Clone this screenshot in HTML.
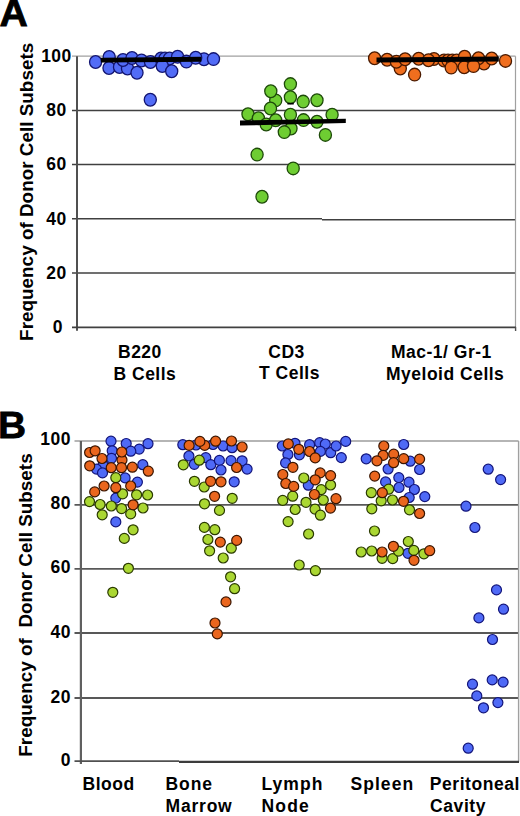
<!DOCTYPE html><html><head><meta charset="utf-8"><style>html,body{margin:0;padding:0;background:#fff;}svg{display:block}text{font-family:"Liberation Sans",sans-serif;font-weight:bold;fill:#000}</style></head><body><svg width="520" height="816" viewBox="0 0 520 816"><g stroke="#404040" stroke-width="1.5"><line x1="72" y1="110.4" x2="515.5" y2="110.4"/><line x1="72" y1="164.6" x2="515.5" y2="164.6"/><line x1="72" y1="273.0" x2="515.5" y2="273.0"/><line x1="72" y1="218.7" x2="322" y2="218.7"/><line x1="322" y1="219.8" x2="515.5" y2="219.8"/></g><line x1="72" y1="56.2" x2="515.5" y2="56.2" stroke="#a0a0a0" stroke-width="1.2"/><line x1="515.5" y1="56.2" x2="515.5" y2="331" stroke="#a0a0a0" stroke-width="1.2"/><line x1="77" y1="56.2" x2="77" y2="330.8" stroke="#505050" stroke-width="2"/><line x1="72" y1="327.4" x2="516" y2="327.4" stroke="#404040" stroke-width="1.7"/><line x1="515.6" y1="327" x2="515.6" y2="331" stroke="#505050" stroke-width="1.3"/><text x="56.5" y="61.9" font-size="17.5" letter-spacing="0.5" text-anchor="middle">100</text><text x="56.5" y="116.1" font-size="17.5" letter-spacing="0.5" text-anchor="middle">80</text><text x="56.5" y="170.3" font-size="17.5" letter-spacing="0.5" text-anchor="middle">60</text><text x="56.5" y="224.5" font-size="17.5" letter-spacing="0.5" text-anchor="middle">40</text><text x="56.5" y="278.7" font-size="17.5" letter-spacing="0.5" text-anchor="middle">20</text><text x="57.8" y="333.1" font-size="17.5" letter-spacing="0.5" text-anchor="middle">0</text><g fill="#526cf6" stroke="#121470" stroke-width="1.3"><ellipse cx="95.6" cy="62" rx="6.05" ry="6.35"/><ellipse cx="109.2" cy="57" rx="6.05" ry="6.35"/><ellipse cx="109" cy="68" rx="6.05" ry="6.35"/><ellipse cx="119.5" cy="67" rx="6.05" ry="6.35"/><ellipse cx="127.5" cy="68.5" rx="6.05" ry="6.35"/><ellipse cx="123" cy="60" rx="6.05" ry="6.35"/><ellipse cx="132" cy="58" rx="6.05" ry="6.35"/><ellipse cx="137" cy="72.7" rx="6.05" ry="6.35"/><ellipse cx="141.5" cy="60.5" rx="6.05" ry="6.35"/><ellipse cx="150.5" cy="62" rx="6.05" ry="6.35"/><ellipse cx="161" cy="58.5" rx="6.05" ry="6.35"/><ellipse cx="165" cy="58.5" rx="6.05" ry="6.35"/><ellipse cx="169.5" cy="58.5" rx="6.05" ry="6.35"/><ellipse cx="162.3" cy="66" rx="6.05" ry="6.35"/><ellipse cx="171.7" cy="71.3" rx="6.05" ry="6.35"/><ellipse cx="177.6" cy="56.8" rx="6.05" ry="6.35"/><ellipse cx="186.4" cy="61.6" rx="6.05" ry="6.35"/><ellipse cx="204" cy="59.2" rx="6.05" ry="6.35"/><ellipse cx="195.7" cy="57.8" rx="6.05" ry="6.35"/><ellipse cx="213.5" cy="59.1" rx="6.05" ry="6.35"/><ellipse cx="150.3" cy="99.7" rx="6.05" ry="6.35"/></g><g fill="#6ecd32" stroke="#1e4a0a" stroke-width="1.3"><ellipse cx="275.7" cy="100.4" rx="6.05" ry="6.35"/><ellipse cx="270.8" cy="91.2" rx="6.05" ry="6.35"/><ellipse cx="270.5" cy="108.5" rx="6.05" ry="6.35"/><ellipse cx="248" cy="114.2" rx="6.05" ry="6.35"/><ellipse cx="258.4" cy="118.3" rx="6.05" ry="6.35"/><ellipse cx="266.2" cy="124.5" rx="6.05" ry="6.35"/><ellipse cx="275.7" cy="120.2" rx="6.05" ry="6.35"/><ellipse cx="290.4" cy="84.1" rx="6.05" ry="6.35"/><ellipse cx="290.4" cy="97.2" rx="6.05" ry="6.35"/><ellipse cx="303.2" cy="101.6" rx="6.05" ry="6.35"/><ellipse cx="317" cy="100.2" rx="6.05" ry="6.35"/><ellipse cx="290.4" cy="114.7" rx="6.05" ry="6.35"/><ellipse cx="303.5" cy="120.1" rx="6.05" ry="6.35"/><ellipse cx="317" cy="121.8" rx="6.05" ry="6.35"/><ellipse cx="332.1" cy="114.7" rx="6.05" ry="6.35"/><ellipse cx="325.4" cy="134.9" rx="6.05" ry="6.35"/><ellipse cx="291" cy="128.5" rx="6.05" ry="6.35"/><ellipse cx="284.3" cy="132.1" rx="6.05" ry="6.35"/><ellipse cx="257.1" cy="154.6" rx="6.05" ry="6.35"/><ellipse cx="293.2" cy="168.4" rx="6.05" ry="6.35"/><ellipse cx="262" cy="196.7" rx="6.05" ry="6.35"/></g><g fill="#f06e1e" stroke="#4a1a00" stroke-width="1.3"><ellipse cx="374.6" cy="58.2" rx="6.05" ry="6.35"/><ellipse cx="387.1" cy="59.7" rx="6.05" ry="6.35"/><ellipse cx="400.3" cy="68.5" rx="6.05" ry="6.35"/><ellipse cx="396.4" cy="61.8" rx="6.05" ry="6.35"/><ellipse cx="405.1" cy="59.2" rx="6.05" ry="6.35"/><ellipse cx="414.6" cy="74.6" rx="6.05" ry="6.35"/><ellipse cx="418.7" cy="58.7" rx="6.05" ry="6.35"/><ellipse cx="434" cy="59" rx="6.05" ry="6.35"/><ellipse cx="428.5" cy="60.2" rx="6.05" ry="6.35"/><ellipse cx="444" cy="60.5" rx="6.05" ry="6.35"/><ellipse cx="448" cy="60.5" rx="6.05" ry="6.35"/><ellipse cx="452.3" cy="60.5" rx="6.05" ry="6.35"/><ellipse cx="456.6" cy="60.5" rx="6.05" ry="6.35"/><ellipse cx="451.2" cy="67.6" rx="6.05" ry="6.35"/><ellipse cx="464.6" cy="56.8" rx="6.05" ry="6.35"/><ellipse cx="464.2" cy="67.3" rx="6.05" ry="6.35"/><ellipse cx="484" cy="63.5" rx="6.05" ry="6.35"/><ellipse cx="478.5" cy="58.2" rx="6.05" ry="6.35"/><ellipse cx="491.7" cy="58.5" rx="6.05" ry="6.35"/><ellipse cx="505.5" cy="60.9" rx="6.05" ry="6.35"/><ellipse cx="473.5" cy="66.1" rx="6.05" ry="6.35"/></g><g fill="#000"><rect x="287.4" y="102.7" width="6.4" height="1.9" rx="0.6"/><polygon points="100.8,57.7 201.3,56.8 201.3,61.7 100.8,62.4"/><polygon points="240,120.6 345.8,118.7 345.8,123.1 240,125.5"/><polygon points="376.5,57.6 498.8,56.6 498.8,61.6 376.5,62.5"/></g><text transform="translate(-0.6,26.2) scale(1.06,1)" font-size="37" stroke="#000" stroke-width="0.8">A</text><text transform="translate(32.8,340.9) rotate(-90)" font-size="18.9">Frequency of Donor Cell Subsets</text><text x="118" y="357.5" font-size="17.5" letter-spacing="0.5">B220</text><text x="113.5" y="379.8" font-size="17.5" letter-spacing="0.5">B Cells</text><text x="268.3" y="357.5" font-size="17.5" letter-spacing="0.5">CD3</text><text x="259" y="379" font-size="17.5" letter-spacing="0.5">T Cells</text><text x="391" y="357.7" font-size="17.5" letter-spacing="0.5">Mac-1/ Gr-1</text><text x="386" y="379.6" font-size="17.5" letter-spacing="0.5">Myeloid Cells</text><g stroke="#585858" stroke-width="1.9"><line x1="74.5" y1="504.9" x2="518.6" y2="504.9"/><line x1="74.5" y1="568.9" x2="518.6" y2="568.9"/><line x1="74.5" y1="633.0" x2="518.6" y2="633.0"/><line x1="74.5" y1="698.0" x2="518.6" y2="698.0"/></g><line x1="74.5" y1="440.9" x2="518.6" y2="440.9" stroke="#9c9c9c" stroke-width="1.5"/><line x1="518.6" y1="440.9" x2="518.6" y2="761.7" stroke="#a0a0a0" stroke-width="1.4"/><line x1="80.9" y1="440.9" x2="80.9" y2="764" stroke="#606060" stroke-width="2.2"/><line x1="74.5" y1="761.1" x2="179" y2="761.1" stroke="#505050" stroke-width="1.6"/><line x1="179" y1="761.9" x2="519" y2="761.9" stroke="#3c3c3c" stroke-width="2.1"/><text x="70.9" y="445.4" font-size="17.5" letter-spacing="0.5" text-anchor="end">100</text><text x="70.9" y="509.4" font-size="17.5" letter-spacing="0.5" text-anchor="end">80</text><text x="70.9" y="573.4" font-size="17.5" letter-spacing="0.5" text-anchor="end">60</text><text x="70.9" y="637.5" font-size="17.5" letter-spacing="0.5" text-anchor="end">40</text><text x="70.9" y="702.5" font-size="17.5" letter-spacing="0.5" text-anchor="end">20</text><text x="70.9" y="766.2" font-size="17.5" letter-spacing="0.5" text-anchor="end">0</text><g fill="#4f6af6" stroke="#12147a" stroke-width="1.2"><circle cx="111" cy="441.2" r="5.0"/><circle cx="126.2" cy="443.5" r="5.0"/><circle cx="148" cy="443.7" r="5.0"/><circle cx="139.2" cy="449.1" r="5.0"/><circle cx="130.8" cy="451.2" r="5.0"/><circle cx="112.2" cy="450.8" r="5.0"/><circle cx="111.5" cy="458.3" r="5.0"/><circle cx="142.8" cy="464.7" r="5.0"/><circle cx="103" cy="465" r="5.0"/><circle cx="96.5" cy="469.1" r="5.0"/><circle cx="102.5" cy="472.9" r="5.0"/><circle cx="125.1" cy="477.9" r="5.0"/><circle cx="137.4" cy="482.1" r="5.0"/><circle cx="115.8" cy="498.1" r="5.0"/><circle cx="115.8" cy="521.9" r="5.0"/><circle cx="182.8" cy="444.7" r="5.0"/><circle cx="196" cy="445" r="5.0"/><circle cx="213" cy="444.5" r="5.0"/><circle cx="223.1" cy="446" r="5.0"/><circle cx="232.1" cy="447.7" r="5.0"/><circle cx="188.9" cy="456" r="5.0"/><circle cx="194.3" cy="464.3" r="5.0"/><circle cx="205.8" cy="457.7" r="5.0"/><circle cx="210.8" cy="464.7" r="5.0"/><circle cx="219.4" cy="460.4" r="5.0"/><circle cx="221" cy="470" r="5.0"/><circle cx="231" cy="460.6" r="5.0"/><circle cx="242.1" cy="460.8" r="5.0"/><circle cx="247.1" cy="469.1" r="5.0"/><circle cx="234.2" cy="481.8" r="5.0"/><circle cx="282.3" cy="446" r="5.0"/><circle cx="295" cy="443.3" r="5.0"/><circle cx="287.9" cy="454.5" r="5.0"/><circle cx="299.4" cy="454.8" r="5.0"/><circle cx="285.6" cy="462.9" r="5.0"/><circle cx="309.6" cy="444.7" r="5.0"/><circle cx="319.7" cy="442.7" r="5.0"/><circle cx="325.3" cy="444" r="5.0"/><circle cx="320.4" cy="451.4" r="5.0"/><circle cx="330.7" cy="452.7" r="5.0"/><circle cx="336.1" cy="446" r="5.0"/><circle cx="341.3" cy="457.6" r="5.0"/><circle cx="345.7" cy="441.4" r="5.0"/><circle cx="308.3" cy="485.2" r="5.0"/><circle cx="403.7" cy="444.5" r="5.0"/><circle cx="366.2" cy="458.8" r="5.0"/><circle cx="388.1" cy="469" r="5.0"/><circle cx="410.2" cy="461.2" r="5.0"/><circle cx="419.6" cy="469.5" r="5.0"/><circle cx="398.8" cy="477.6" r="5.0"/><circle cx="385.6" cy="481.9" r="5.0"/><circle cx="409" cy="482.2" r="5.0"/><circle cx="399" cy="487.5" r="5.0"/><circle cx="414.4" cy="489.5" r="5.0"/><circle cx="409.2" cy="497.5" r="5.0"/><circle cx="424.8" cy="496.6" r="5.0"/><circle cx="408" cy="553.3" r="5.0"/><circle cx="488.2" cy="469.2" r="5.0"/><circle cx="500.6" cy="479.6" r="5.0"/><circle cx="466" cy="506.2" r="5.0"/><circle cx="474.9" cy="527.5" r="5.0"/><circle cx="496.5" cy="589.9" r="5.0"/><circle cx="503.5" cy="609.2" r="5.0"/><circle cx="478.9" cy="617.9" r="5.0"/><circle cx="492.5" cy="639.5" r="5.0"/><circle cx="472.5" cy="684.2" r="5.0"/><circle cx="492.2" cy="679.9" r="5.0"/><circle cx="503.1" cy="682.1" r="5.0"/><circle cx="476.8" cy="695.9" r="5.0"/><circle cx="497.9" cy="702.6" r="5.0"/><circle cx="483.5" cy="707.8" r="5.0"/><circle cx="468.2" cy="748.2" r="5.0"/></g><g fill="#aad732" stroke="#2a3a00" stroke-width="1.2"><circle cx="115.8" cy="477.7" r="5.0"/><circle cx="122.6" cy="493.8" r="5.0"/><circle cx="136.6" cy="494.8" r="5.0"/><circle cx="147.6" cy="495" r="5.0"/><circle cx="89.5" cy="501.6" r="5.0"/><circle cx="100.1" cy="504.5" r="5.0"/><circle cx="111.3" cy="506" r="5.0"/><circle cx="121.6" cy="508.6" r="5.0"/><circle cx="143" cy="508" r="5.0"/><circle cx="130.7" cy="513.9" r="5.0"/><circle cx="102.2" cy="514.8" r="5.0"/><circle cx="133.1" cy="529.8" r="5.0"/><circle cx="124.3" cy="538.4" r="5.0"/><circle cx="128.4" cy="568.3" r="5.0"/><circle cx="112.8" cy="592.3" r="5.0"/><circle cx="183.3" cy="464.8" r="5.0"/><circle cx="199.3" cy="460.2" r="5.0"/><circle cx="194.4" cy="481.3" r="5.0"/><circle cx="204.2" cy="487" r="5.0"/><circle cx="232.2" cy="498.3" r="5.0"/><circle cx="204.5" cy="503.8" r="5.0"/><circle cx="219.5" cy="510.4" r="5.0"/><circle cx="204.4" cy="527.4" r="5.0"/><circle cx="214.8" cy="529.7" r="5.0"/><circle cx="207.9" cy="539.5" r="5.0"/><circle cx="231.3" cy="548.2" r="5.0"/><circle cx="209.6" cy="550.8" r="5.0"/><circle cx="223.2" cy="558" r="5.0"/><circle cx="230.6" cy="576.8" r="5.0"/><circle cx="234.6" cy="588.7" r="5.0"/><circle cx="303.8" cy="478" r="5.0"/><circle cx="330.6" cy="485" r="5.0"/><circle cx="321.2" cy="489.6" r="5.0"/><circle cx="292.7" cy="496.2" r="5.0"/><circle cx="282.7" cy="500.4" r="5.0"/><circle cx="306" cy="502.3" r="5.0"/><circle cx="323.3" cy="500" r="5.0"/><circle cx="295.2" cy="509.5" r="5.0"/><circle cx="315" cy="509.1" r="5.0"/><circle cx="320.4" cy="515.2" r="5.0"/><circle cx="288.1" cy="521.6" r="5.0"/><circle cx="308.6" cy="534" r="5.0"/><circle cx="299.2" cy="565" r="5.0"/><circle cx="315.4" cy="570.7" r="5.0"/><circle cx="388.7" cy="489.2" r="5.0"/><circle cx="371.3" cy="492.7" r="5.0"/><circle cx="381.2" cy="500.8" r="5.0"/><circle cx="392.5" cy="500" r="5.0"/><circle cx="371.8" cy="508.8" r="5.0"/><circle cx="409.5" cy="509.8" r="5.0"/><circle cx="374.5" cy="531" r="5.0"/><circle cx="361.2" cy="552" r="5.0"/><circle cx="371.7" cy="551" r="5.0"/><circle cx="382.1" cy="558.3" r="5.0"/><circle cx="392.7" cy="558.6" r="5.0"/><circle cx="398.5" cy="551.1" r="5.0"/><circle cx="408.3" cy="541.5" r="5.0"/><circle cx="413.8" cy="550.4" r="5.0"/><circle cx="423.9" cy="553.8" r="5.0"/></g><g fill="#ea661e" stroke="#3a1500" stroke-width="1.2"><circle cx="89.6" cy="452.5" r="5.0"/><circle cx="95.1" cy="450.8" r="5.0"/><circle cx="102" cy="458.5" r="5.0"/><circle cx="122" cy="460" r="5.0"/><circle cx="121.8" cy="452" r="5.0"/><circle cx="89.7" cy="465.8" r="5.0"/><circle cx="111.2" cy="467.7" r="5.0"/><circle cx="121.5" cy="467.7" r="5.0"/><circle cx="132.4" cy="467.2" r="5.0"/><circle cx="148.3" cy="471.2" r="5.0"/><circle cx="104.1" cy="486" r="5.0"/><circle cx="115.8" cy="487.7" r="5.0"/><circle cx="130.7" cy="486" r="5.0"/><circle cx="94.7" cy="491.9" r="5.0"/><circle cx="133.1" cy="504.8" r="5.0"/><circle cx="189.1" cy="445.4" r="5.0"/><circle cx="204.7" cy="445.4" r="5.0"/><circle cx="199.9" cy="441.4" r="5.0"/><circle cx="215.6" cy="441.2" r="5.0"/><circle cx="231.5" cy="441" r="5.0"/><circle cx="242.1" cy="447" r="5.0"/><circle cx="236.6" cy="467.5" r="5.0"/><circle cx="210.6" cy="481.3" r="5.0"/><circle cx="221" cy="481.8" r="5.0"/><circle cx="214.6" cy="496.3" r="5.0"/><circle cx="220.3" cy="542.1" r="5.0"/><circle cx="236.7" cy="540.4" r="5.0"/><circle cx="226" cy="601.9" r="5.0"/><circle cx="215" cy="623" r="5.0"/><circle cx="217.3" cy="633.9" r="5.0"/><circle cx="288.3" cy="443.9" r="5.0"/><circle cx="298.8" cy="449.3" r="5.0"/><circle cx="309.6" cy="451.5" r="5.0"/><circle cx="315.2" cy="457.9" r="5.0"/><circle cx="292.9" cy="467.3" r="5.0"/><circle cx="282.8" cy="474.5" r="5.0"/><circle cx="320.2" cy="472.9" r="5.0"/><circle cx="330.6" cy="475.6" r="5.0"/><circle cx="315.2" cy="479.8" r="5.0"/><circle cx="285.8" cy="483.5" r="5.0"/><circle cx="293.7" cy="486.4" r="5.0"/><circle cx="314.4" cy="494.5" r="5.0"/><circle cx="336" cy="498.7" r="5.0"/><circle cx="330.5" cy="508.1" r="5.0"/><circle cx="383.8" cy="446" r="5.0"/><circle cx="383.1" cy="455.4" r="5.0"/><circle cx="393.7" cy="454.2" r="5.0"/><circle cx="376.9" cy="460.8" r="5.0"/><circle cx="393.6" cy="462.7" r="5.0"/><circle cx="403.7" cy="458.7" r="5.0"/><circle cx="419.6" cy="459.1" r="5.0"/><circle cx="374.7" cy="476.1" r="5.0"/><circle cx="382.3" cy="492.7" r="5.0"/><circle cx="403.5" cy="501.3" r="5.0"/><circle cx="419.6" cy="513.5" r="5.0"/><circle cx="382.1" cy="552" r="5.0"/><circle cx="393.4" cy="546.3" r="5.0"/><circle cx="414" cy="560.3" r="5.0"/><circle cx="429.7" cy="550.7" r="5.0"/></g><text transform="translate(-1.9,437.7) scale(1.05,1)" font-size="37" stroke="#000" stroke-width="0.8">B</text><text transform="translate(32.2,756.7) rotate(-90)" font-size="18.9" xml:space="preserve">Frequency of  Donor Cell Subsets</text><text x="82.5" y="789.6" font-size="17.5" letter-spacing="0.5">Blood</text><text x="165.5" y="789.6" font-size="17.5" letter-spacing="0.9">Bone</text><text x="165.5" y="812" font-size="17.5" letter-spacing="0.8">Marrow</text><text x="261.5" y="789.6" font-size="17.5" letter-spacing="1.05">Lymph</text><text x="261.5" y="812" font-size="17.5" letter-spacing="1.15">Node</text><text x="350.5" y="789.6" font-size="17.5" letter-spacing="1.05">Spleen</text><text x="429.8" y="789.6" font-size="17.5" letter-spacing="0.55">Peritoneal</text><text x="430" y="812" font-size="17.5" letter-spacing="0.6">Cavity</text></svg></body></html>
